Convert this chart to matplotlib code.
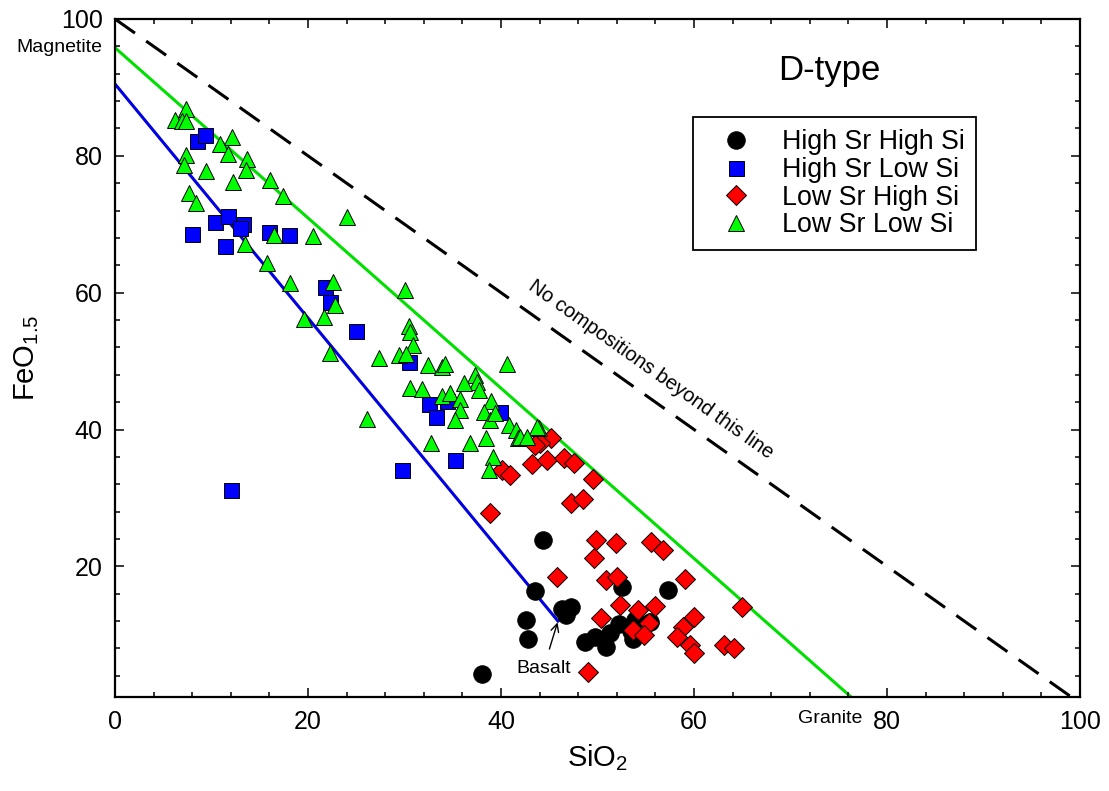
import numpy as np
import matplotlib.pyplot as plt
from matplotlib.ticker import MultipleLocator

plt.rcParams['font.family'] = ['Liberation Sans', 'DejaVu Sans']
plt.rcParams['mathtext.fontset'] = 'custom'
plt.rcParams['mathtext.rm'] = 'Liberation Sans'
plt.rcParams['mathtext.it'] = 'Liberation Sans:italic'

# High Sr High Si
hshs_si = [44.4, 43.5, 46.3, 47.2, 46.7, 42.6, 42.8, 38.0, 52.5, 57.3,
           48.7, 49.7, 50.9, 51.3, 52.2, 53.7, 53.9, 55.4, 53.5]
hshs_fe = [23.8, 16.4, 13.8, 14.1, 12.9, 12.2, 9.4, 4.2, 17.0, 16.5,
           9.0, 9.7, 8.2, 10.2, 11.6, 9.4, 12.1, 11.9, 10.5]

# High Sr Low Si
hsls_si = [8.5, 9.3, 8.0, 10.4, 11.7, 13.3, 13.0, 11.4, 16.0, 18.0,
           21.8, 22.3, 25.0, 30.5, 32.5, 33.3, 34.4, 39.9, 35.2, 29.7, 12.0]
hsls_fe = [82.2, 83.0, 68.6, 70.3, 71.2, 70.0, 69.4, 66.8, 68.8, 68.5,
           60.9, 58.6, 54.4, 49.8, 43.7, 41.9, 44.2, 42.5, 35.6, 34.1, 31.2]

# Low Sr High Si
lshs_si = [45.2, 44.0, 43.5, 43.2, 44.8, 46.5, 47.6, 40.1, 40.9, 49.5,
           47.2, 48.5, 38.9, 49.8, 51.9, 55.5, 56.8, 49.6, 45.8, 50.9,
           52.0, 59.1, 52.3, 50.4, 54.2, 56.0, 55.3, 53.7, 54.8, 60.0,
           58.9, 58.2, 59.6, 60.0, 63.1, 64.1, 65.0, 49.0]
lshs_fe = [38.8, 38.0, 37.7, 35.0, 35.6, 35.8, 35.1, 34.1, 33.3, 32.7,
           29.3, 29.8, 27.8, 23.8, 23.4, 23.6, 22.4, 21.2, 18.5, 18.0,
           18.5, 18.2, 14.4, 12.4, 13.6, 14.2, 11.7, 10.7, 9.9, 12.6,
           11.2, 9.7, 8.5, 7.3, 8.5, 8.0, 14.0, 4.6]

# Low Sr Low Si
lsls_si = [7.4, 6.2, 6.9, 7.4, 12.1, 10.9, 11.7, 7.4, 7.1, 9.4,
           13.7, 13.6, 12.2, 16.1, 17.4, 7.7, 8.4, 24.0, 16.5, 20.5,
           13.5, 15.8, 18.1, 22.6, 22.8, 21.7, 19.6, 22.3,
           30.1, 30.5, 30.6, 30.9, 27.4, 29.4, 30.2, 32.4, 33.9, 34.2,
           40.6, 37.3, 37.5, 36.2, 37.7, 30.6, 31.8, 33.9, 34.7, 35.8,
           35.8, 35.2, 39.0, 38.2, 38.9, 39.4, 40.8, 41.6, 41.8, 43.9,
           26.1, 32.7, 36.8, 38.4, 39.2, 38.8, 43.7, 42.0, 42.7]
lsls_fe = [86.9, 85.2, 85.1, 85.1, 82.7, 81.7, 80.3, 80.1, 78.7, 77.8,
           79.6, 77.9, 76.2, 76.4, 74.1, 74.5, 73.1, 71.1, 68.4, 68.3,
           67.1, 64.4, 61.4, 61.6, 58.2, 56.5, 56.1, 51.2,
           60.4, 55.1, 54.3, 52.3, 50.5, 50.9, 51.1, 49.4, 49.2, 49.6,
           49.6, 48.0, 47.0, 46.8, 45.8, 46.0, 45.9, 44.9, 45.3, 44.5,
           42.9, 41.4, 44.1, 42.5, 41.4, 42.4, 40.6, 39.9, 38.7, 40.2,
           41.6, 38.0, 38.0, 38.7, 36.0, 34.1, 40.4, 38.9, 38.9]

# reference lines
limit_si, limit_fe = [0, 100], [100, 0]
green_si, green_fe = [0, 77], [95.8, 0]
blue_si, blue_fe = [0, 45.9], [90.5, 12.0]

fig = plt.figure(figsize=(11.09, 7.91), dpi=100)
ax = fig.add_axes([0.1037, 0.1188, 0.8702, 0.8572])

ax.plot(limit_si, limit_fe, color='black', lw=2.2, dashes=(8, 4.5), zorder=1)
ax.plot(green_si, green_fe, color='#00e000', lw=2.2, zorder=1)
ax.plot(blue_si, blue_fe, color='#0000e0', lw=2.2, zorder=1)

ax.plot(hshs_si, hshs_fe, 'o', ms=12.6, mfc='black', mec='black', mew=0.7,
        label='High Sr High Si', zorder=3)
ax.plot(hsls_si, hsls_fe, 's', ms=10.8, mfc='#0000ff', mec='black', mew=0.7,
        label='High Sr Low Si', zorder=3)
ax.plot(lshs_si, lshs_fe, 'D', ms=9.7, mfc='#ff0000', mec='black', mew=0.7,
        label='Low Sr High Si', zorder=3)
ax.plot(lsls_si, lsls_fe, '^', ms=12.2, mfc='#00ff00', mec='black', mew=0.7,
        label='Low Sr Low Si', zorder=3)

ax.set_xlim(0, 100)
ax.set_ylim(0.9, 100)
ax.set_xticks([0, 20, 40, 60, 80, 100])
ax.set_yticks([20, 40, 60, 80, 100])
ax.xaxis.set_minor_locator(MultipleLocator(4))
ax.yaxis.set_minor_locator(MultipleLocator(4))
ax.tick_params(which='both', direction='in', top=True, right=True, width=1.1)
ax.tick_params(which='major', length=6.5, labelsize=18, pad=9)
ax.tick_params(which='minor', length=3.5)
for s in ax.spines.values():
    s.set_linewidth(1.6)

ax.set_xlabel('SiO$_2$', fontsize=21, labelpad=6)
ax.set_ylabel('FeO$_{1.5}$', fontsize=21, labelpad=14)

ax.text(74, 92.5, 'D-type', fontsize=25, ha='center', va='center')
ax.text(55.5, 48.8, 'No compositions beyond this line', fontsize=14.5,
        rotation=-35.3, rotation_mode='anchor', ha='center', va='center')
ax.text(-1.3, 95.8, 'Magnetite', fontsize=14, ha='right', va='center', clip_on=False)
ax.text(74.1, -2.3, 'Granite', fontsize=14, ha='center', va='center', clip_on=False)
ax.annotate('Basalt', xy=(45.9, 12.0), xytext=(44.4, 5.1), fontsize=14,
            ha='center', va='center',
            arrowprops=dict(arrowstyle='->', lw=1, color='black', shrinkA=6, shrinkB=1))

leg = ax.legend(loc='upper left', bbox_to_anchor=(0.599, 0.855), fontsize=19.3,
                frameon=True, fancybox=False, edgecolor='black', framealpha=1,
                labelspacing=0.06, handletextpad=0.55, borderpad=0.45, borderaxespad=0,
                handlelength=2.3, numpoints=1)
leg.get_frame().set_linewidth(1.3)

plt.savefig('out.png', dpi=100)
